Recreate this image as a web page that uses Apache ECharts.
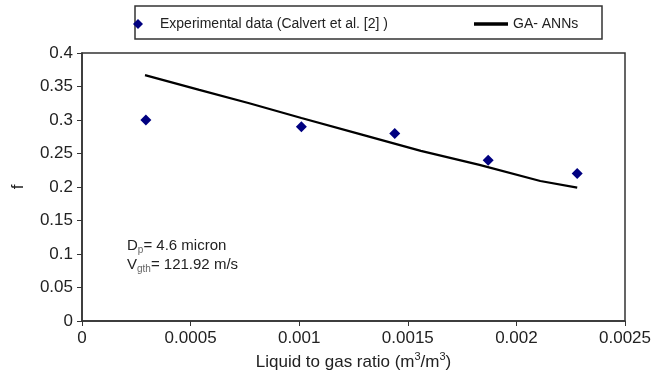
<!DOCTYPE html>
<html><head><meta charset="utf-8">
<script src="https://cdn.jsdelivr.net/npm/echarts@6/dist/echarts.min.js"></script>
<style>html,body{margin:0;padding:0;background:#fff}#c{width:652px;height:388px}</style>
</head><body><div id="c"></div>
<script>
const expX = [0.000294, 0.00101, 0.00144, 0.00187, 0.00228];
const expY = [0.30, 0.29, 0.28, 0.24, 0.22];
const annX = [0.00029, 0.00054, 0.00077, 0.00101, 0.00128, 0.00156, 0.00183, 0.00211, 0.00228];
const annY = [0.367, 0.345, 0.325, 0.303, 0.279, 0.254, 0.233, 0.209, 0.199];
const xTicks = ['0', '0.0005', '0.001', '0.0015', '0.002', '0.0025'];

const chart = echarts.init(document.getElementById('c'));
const font = 'Liberation Sans, Arial, sans-serif';
chart.setOption({
  animation: false,
  grid: { left: 82, right: 27, top: 53, bottom: 67, show: true, borderColor: '#333', borderWidth: 1.5, containLabel: false, outerBoundsMode: 'none' },
  xAxis: {
    type: 'value', min: 0, max: 0.0025, interval: 0.0005,
    name: '{n|Liquid to gas ratio (m}{s|3}{n|/m}{s|3}{n|)}',
    nameLocation: 'middle', nameGap: 25,
    nameTextStyle: { rich: { n: { fontSize: 17, fontFamily: font, color: '#222', lineHeight: 20 }, s: { fontSize: 11, fontFamily: font, color: '#222', lineHeight: 20, padding: [0,0,10,0] } } },
    axisLine: { lineStyle: { color: '#333', width: 1.5 } },
    axisTick: { inside: false, length: 5, lineStyle: { color: '#333' } },
    splitLine: { show: false },
    axisLabel: { fontSize: 17, fontFamily: font, color: '#222', margin: 9, formatter: (v, i) => xTicks[i] }
  },
  yAxis: {
    type: 'value', min: 0, max: 0.4, interval: 0.05,
    name: 'f', nameLocation: 'middle', nameGap: 55, nameRotate: 90,
    nameTextStyle: { fontSize: 17, fontFamily: font, color: '#222' },
    axisLine: { show: true, lineStyle: { color: '#333', width: 1.5 } },
    axisTick: { show: true, inside: false, length: 5, lineStyle: { color: '#333' } },
    splitLine: { show: false },
    axisLabel: { fontSize: 17, fontFamily: font, color: '#222', margin: 9 }
  },
  legend: [
    {
      left: 133, top: 17, padding: 0,
      itemWidth: 10, itemHeight: 10,
      textStyle: { fontSize: 14, fontFamily: font, color: '#222', padding: [0, 0, 0, 12] },
      data: [{ name: 'Experimental data (Calvert et al. [2] )', icon: 'diamond', itemStyle: { color: '#000080', opacity: 1 } }]
    },
    {
      left: 474, top: 17, padding: 0,
      itemWidth: 34, itemHeight: 10,
      textStyle: { fontSize: 14, fontFamily: font, color: '#222', padding: [0, 0, 0, 0] },
      data: [{ name: 'GA- ANNs', icon: 'path://M0,0 L10,0 L10,1 L0,1 Z', itemStyle: { color: '#000' } }]
    }
  ],
  graphic: [
    {
      type: 'rect', shape: { x: 135, y: 6, width: 467, height: 33 },
      style: { fill: 'none', stroke: '#333', lineWidth: 1.5 }, silent: true
    },
    {
      type: 'text', left: 127, top: 237,
      style: {
        text: '{n|D}{s|p}{n|= 4.6 micron}\n{n|V}{s|gth}{n|= 121.92 m/s}',
        rich: {
          n: { fontSize: 15, fontFamily: font, fill: '#222', lineHeight: 19 },
          s: { fontSize: 10, fontFamily: font, fill: '#666', lineHeight: 19, padding: [8,0,0,0] }
        }
      }
    }
  ],
  series: [
    {
      name: 'Experimental data (Calvert et al. [2] )', type: 'scatter',
      symbol: 'diamond', symbolSize: 11,
      itemStyle: { color: '#000080', opacity: 1 },
      data: expX.map((x, i) => [x, expY[i]])
    },
    {
      name: 'GA- ANNs', type: 'line', showSymbol: false, symbol: 'none',
      lineStyle: { color: '#000', width: 2.2 }, itemStyle: { color: '#000' },
      data: annX.map((x, i) => [x, annY[i]])
    }
  ]
});
</script></body></html>
